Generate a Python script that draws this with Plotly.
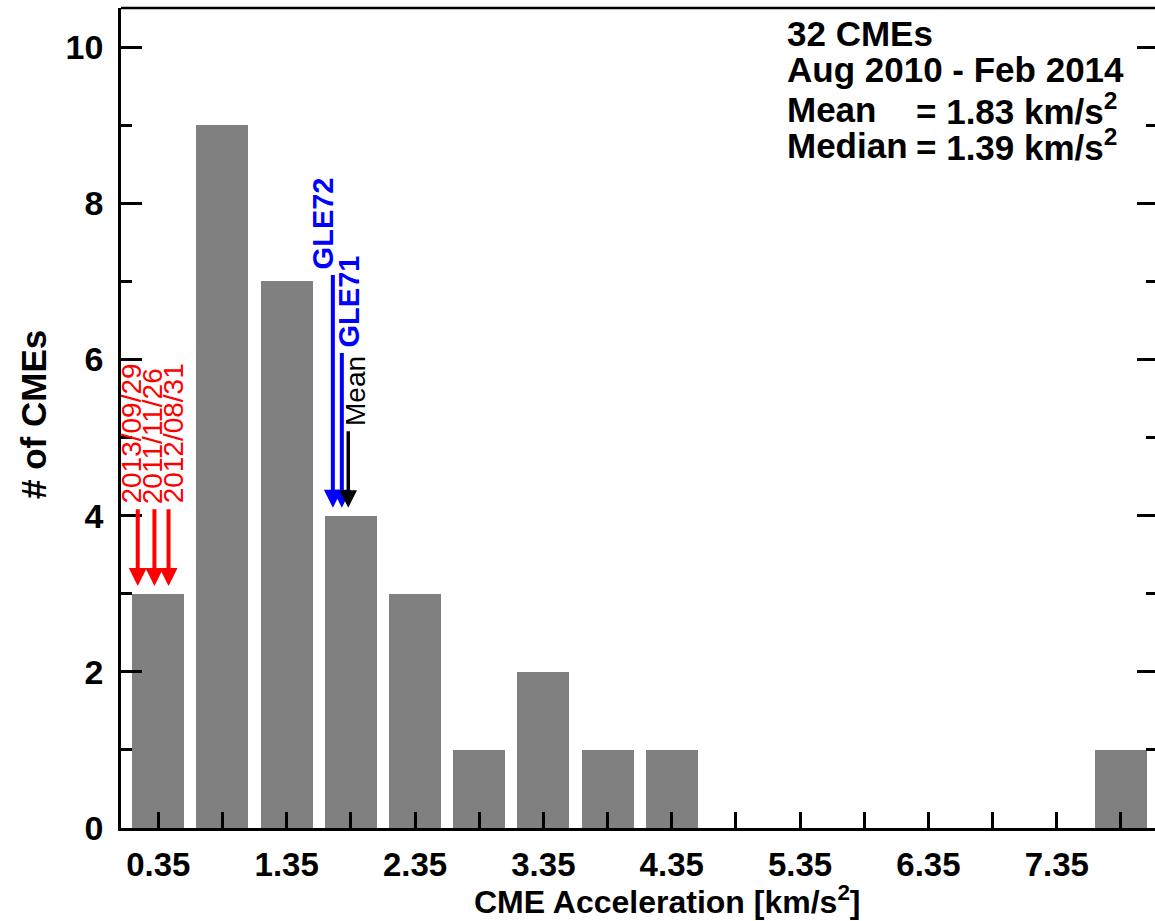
import plotly.graph_objects as go

# ---- data ----
bin_centers = [0.35, 0.85, 1.35, 1.85, 2.35, 2.85, 3.35, 3.85, 4.35,
               4.85, 5.35, 5.85, 6.35, 6.85, 7.35, 7.85]
counts = [3, 9, 7, 4, 3, 1, 2, 1, 1, 0, 0, 0, 0, 0, 0, 1]
xtick_vals = bin_centers
xtick_text = ["0.35", " ", "1.35", " ", "2.35", " ", "3.35", " ", "4.35", " ",
              "5.35", " ", "6.35", " ", "7.35", " "]

red_labels = ["2013/09/29", "2011/11/26", "2012/08/31"]
red_acc = [0.19, 0.32, 0.43]
red_tip = [3.1, 3.1, 3.1]
red_tail = [4.1, 4.1, 4.1]
red_text_shift = [-6, -2, 5]

gle_labels = ["GLE72", "GLE71"]
gle_acc = [1.71, 1.78]
gle_tip = [4.1, 4.1]
gle_tail = [7.1, 6.1]
gle_text_shift = [-10, 7]

mean_acc = 1.83
median_acc = 1.39
mean_tip = 4.1
mean_tail = 5.1

info_lines = ["32 CMEs", "Aug 2010 - Feb 2014"]

FONT = "Liberation Sans"
W, H = 1155, 921
ML, MR, MT, MB = 121, 0, 8, 93
PW = W - ML - MR
PH = H - MT - MB


def px(xpix):
    return (xpix - ML) / PW


def py(ypix):
    return (H - MB - ypix) / PH


fig = go.Figure()
fig.add_trace(go.Bar(
    x=bin_centers, y=counts, width=0.405,
    marker=dict(color="#808080", line=dict(width=0)),
    showlegend=False, hoverinfo="skip"))
# invisible trace to carry the right-hand tick axis
fig.add_trace(go.Scatter(x=bin_centers, y=counts, yaxis="y2", mode="markers",
                         marker=dict(opacity=0), showlegend=False,
                         hoverinfo="skip"))

ann = []
# red arrows + labels
for lab, xa, tip, tail, sh in zip(red_labels, red_acc, red_tip, red_tail, red_text_shift):
    ann.append(dict(x=xa, y=tip, ax=xa, ay=tail, xref="x", yref="y",
                    axref="x", ayref="y", text="", showarrow=True,
                    arrowhead=2, arrowsize=0.9, arrowwidth=4, arrowcolor="#ff0000"))
    ann.append(dict(x=xa, y=tail, xref="x", yref="y", text=lab, textangle=-90,
                    showarrow=False, xanchor="center", yanchor="bottom",
                    xshift=sh, yshift=2,
                    font=dict(family=FONT, size=28, color="#ff0000")))
# GLE arrows
for lab, xa, tip, tail, sh in zip(gle_labels, gle_acc, gle_tip, gle_tail, gle_text_shift):
    ann.append(dict(x=xa, y=tip, ax=xa, ay=tail, xref="x", yref="y",
                    axref="x", ayref="y", text="", showarrow=True,
                    arrowhead=2, arrowsize=0.9, arrowwidth=4, arrowcolor="#0000ff"))
    ann.append(dict(x=xa, y=tail, xref="x", yref="y", text=lab,
                    textangle=-90, showarrow=False, xanchor="center",
                    yanchor="bottom", xshift=sh, yshift=2,
                    font=dict(family=FONT, size=29, color="#0000ff", weight="bold")))
# mean arrow
ann.append(dict(x=mean_acc, y=mean_tip, ax=mean_acc, ay=mean_tail, xref="x", yref="y",
                axref="x", ayref="y", text="", showarrow=True,
                arrowhead=2, arrowsize=1.0, arrowwidth=3.5, arrowcolor="#000000"))
ann.append(dict(x=mean_acc, y=mean_tail, xref="x", yref="y", text="Mean",
                textangle=-90, showarrow=False, xanchor="center",
                yanchor="bottom", xshift=7, yshift=2,
                font=dict(family=FONT, size=28, color="#000000")))

# info text top right
info_font = dict(family=FONT, size=35, color="#000000", weight="bold")
XL, XEQ = 785, 914
ann.append(dict(x=px(XL), y=py(33), xref="paper", yref="paper", text=info_lines[0],
                showarrow=False, xanchor="left", yanchor="middle", font=info_font))
ann.append(dict(x=px(XL), y=py(70), xref="paper", yref="paper", text=info_lines[1],
                showarrow=False, xanchor="left", yanchor="middle", font=info_font))
ann.append(dict(x=px(XL), y=py(109), xref="paper", yref="paper", text="Mean",
                showarrow=False, xanchor="left", yanchor="middle", font=info_font))
ann.append(dict(x=px(XEQ), y=py(109), xref="paper", yref="paper",
                text="= %.2f km/s<sup>2</sup>" % mean_acc,
                showarrow=False, xanchor="left", yanchor="middle", font=info_font))
ann.append(dict(x=px(XL), y=py(145), xref="paper", yref="paper", text="Median",
                showarrow=False, xanchor="left", yanchor="middle", font=info_font))
ann.append(dict(x=px(XEQ), y=py(145), xref="paper", yref="paper",
                text="= %.2f km/s<sup>2</sup>" % median_acc,
                showarrow=False, xanchor="left", yanchor="middle", font=info_font))

# axis titles
ann.append(dict(x=px(667), y=py(900), xref="paper", yref="paper",
                text="CME Acceleration [km/s<sup>2</sup>]",
                showarrow=False, xanchor="center", yanchor="middle",
                font=dict(family=FONT, size=32, color="#000000", weight="bold")))
ann.append(dict(x=px(33), y=py(415), xref="paper", yref="paper",
                text="# of CMEs", textangle=-90,
                showarrow=False, xanchor="center", yanchor="middle",
                font=dict(family=FONT, size=35, color="#000000", weight="bold")))

fig.update_layout(
    width=W, height=H,
    margin=dict(l=ML, r=MR, t=MT, b=MB, pad=0),
    paper_bgcolor="white", plot_bgcolor="white",
    bargap=0, showlegend=False,
    annotations=ann,
    shapes=[dict(type="line", xref="paper", yref="paper", x0=0, x1=1, y0=1, y1=1,
                 line=dict(color="black", width=2.5))],
    xaxis=dict(range=[0.0595, 8.115], tickmode="array", tickvals=xtick_vals,
               ticktext=xtick_text, ticks="inside", ticklen=16, tickwidth=2.5,
               tickcolor="black", showline=True, linecolor="black", linewidth=2.5,
               showgrid=False, zeroline=False, ticklabelstandoff=6,
               tickfont=dict(family=FONT, size=33, color="black", weight="bold")),
    yaxis=dict(range=[0, 10.5], tickmode="array", tickvals=[0, 2, 4, 6, 8, 10],
               ticks="inside", ticklen=21, tickwidth=2.5, tickcolor="black",
               minor=dict(tickmode="array", tickvals=[1, 3, 5, 7, 9], ticks="inside",
                          ticklen=11, tickwidth=2.5, tickcolor="black"),
               showline=True, linecolor="black", linewidth=2.5,
               showgrid=False, zeroline=False, ticklabelstandoff=8,
               tickfont=dict(family=FONT, size=34, color="black", weight="bold")),
    yaxis2=dict(range=[0, 10.5], overlaying="y", side="right", tickmode="array",
                tickvals=[0, 2, 4, 6, 8, 10], ticks="inside", ticklen=18,
                tickwidth=2.5, tickcolor="black",
                minor=dict(tickmode="array", tickvals=[1, 3, 5, 7, 9], ticks="inside",
                           ticklen=9, tickwidth=2.5, tickcolor="black"),
                showticklabels=False, showline=False, showgrid=False, zeroline=False),
)

fig.write_html("out.html")
